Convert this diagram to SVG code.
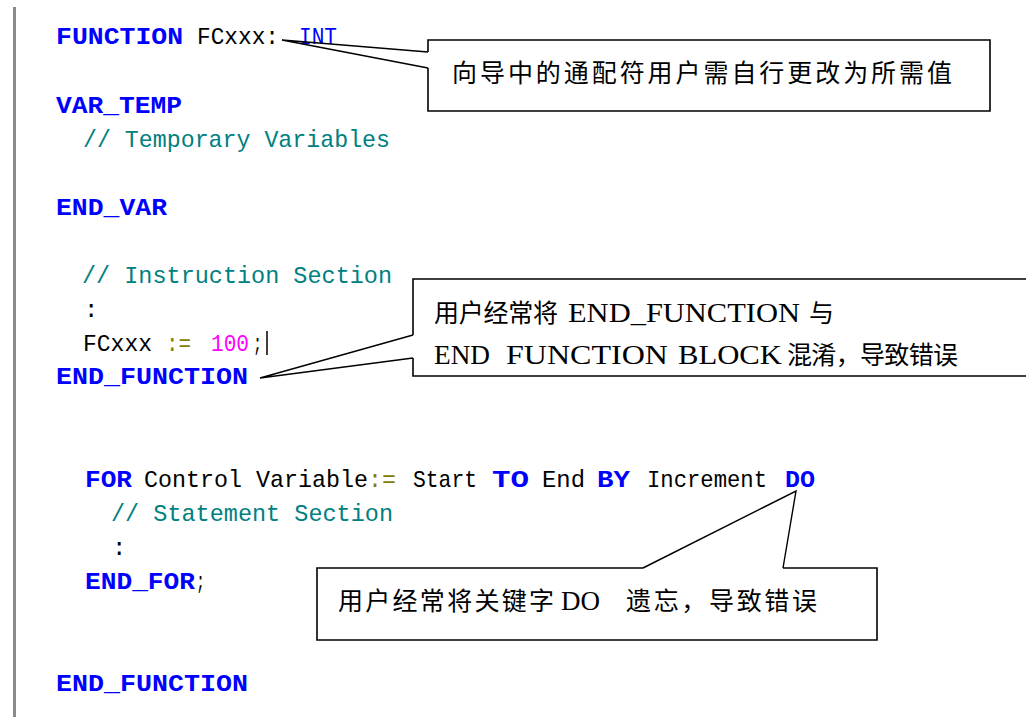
<svg xmlns="http://www.w3.org/2000/svg" width="1026" height="717" viewBox="0 0 1026 717">
<style>
text{white-space:pre}
.kw{font-family:"Liberation Mono","DejaVu Sans Mono",monospace;font-weight:bold;font-size:24px;fill:#0000ff}
.kn{font-family:"Liberation Mono","DejaVu Sans Mono",monospace;font-size:24px;fill:#0000ff}
.tx{font-family:"Liberation Mono","DejaVu Sans Mono",monospace;font-size:24px;fill:#000}
.cm{font-family:"Liberation Mono","DejaVu Sans Mono",monospace;font-size:24px;fill:#008080}
.op{font-family:"Liberation Mono","DejaVu Sans Mono",monospace;font-size:24px;fill:#808000}
.num{font-family:"Liberation Mono","DejaVu Sans Mono",monospace;font-size:24px;fill:#ff00ff}
.cn{font-family:"Noto Sans CJK SC","Noto Sans CJK TC",sans-serif;font-size:25px;fill:#000}
.lt{font-family:"Liberation Serif","Noto Sans CJK SC",serif;font-size:27px;fill:#000}
.box{fill:none;stroke:#000;stroke-width:1.6}
.lead{fill:none;stroke:#000;stroke-width:1.4;stroke-linejoin:miter}
</style>
<rect width="1026" height="717" fill="#fff"/>
<line x1="14.5" y1="7" x2="14.5" y2="717" stroke="#8a8a8a" stroke-width="3"/>

<g id="code">
<text class="kw" x="56" y="44" textLength="127" lengthAdjust="spacingAndGlyphs">FUNCTION</text>
<text class="tx" x="197" y="44" textLength="82" lengthAdjust="spacingAndGlyphs">FCxxx:</text>
<text class="kn" x="299" y="44" textLength="38" lengthAdjust="spacingAndGlyphs">INT</text>
<text class="kw" x="56" y="113" textLength="126" lengthAdjust="spacingAndGlyphs">VAR_TEMP</text>
<text class="cm" x="83" y="147" textLength="307" lengthAdjust="spacingAndGlyphs">// Temporary Variables</text>
<text class="kw" x="56" y="215" textLength="111" lengthAdjust="spacingAndGlyphs">END_VAR</text>
<text class="cm" x="82" y="283" textLength="310" lengthAdjust="spacingAndGlyphs">// Instruction Section</text>
<text class="tx" x="84" y="317">:</text>
<text class="tx" x="83" y="351" textLength="69" lengthAdjust="spacingAndGlyphs">FCxxx</text>
<text class="op" x="166" y="351" textLength="25" lengthAdjust="spacingAndGlyphs">:=</text>
<text class="num" x="211" y="351" textLength="38" lengthAdjust="spacingAndGlyphs">100</text>
<text class="tx" x="253" y="351" textLength="9" lengthAdjust="spacingAndGlyphs">;</text>
<line x1="267" y1="331" x2="267" y2="355" stroke="#000" stroke-width="1.5"/>
<text class="kw" x="56" y="384" textLength="192" lengthAdjust="spacingAndGlyphs">END_FUNCTION</text>

<text class="kw" x="85" y="487" textLength="47" lengthAdjust="spacingAndGlyphs">FOR</text>
<text class="tx" x="144" y="487" textLength="252" lengthAdjust="spacingAndGlyphs">Control Variable<tspan style="fill:#808000">:=</tspan></text>
<text class="tx" x="413" y="487" textLength="64" lengthAdjust="spacingAndGlyphs">Start</text>
<text class="kw" x="492" y="487" textLength="37" lengthAdjust="spacingAndGlyphs">TO</text>
<text class="tx" x="542" y="487" textLength="43" lengthAdjust="spacingAndGlyphs">End</text>
<text class="kw" x="597" y="487" textLength="33" lengthAdjust="spacingAndGlyphs">BY</text>
<text class="tx" x="647" y="487" textLength="120" lengthAdjust="spacingAndGlyphs">Increment</text>
<text class="kw" x="785" y="487" textLength="30" lengthAdjust="spacingAndGlyphs">DO</text>
<text class="cm" x="111" y="521" textLength="282" lengthAdjust="spacingAndGlyphs">// Statement Section</text>
<text class="tx" x="112" y="555">:</text>
<text class="kw" x="85" y="589" textLength="110" lengthAdjust="spacingAndGlyphs">END_FOR</text>
<text class="tx" x="196" y="589" textLength="9" lengthAdjust="spacingAndGlyphs">;</text>
<text class="kw" x="56" y="691" textLength="192" lengthAdjust="spacingAndGlyphs">END_FUNCTION</text>
</g>

<g id="connectors">
<polyline class="lead" points="428,52 282,40 428,68"/>
<polyline class="lead" points="413,335 260,378 413,358"/>
<polyline class="lead" points="643,568 796,491 783,568"/>
</g>

<g id="callout-wildcard">
<path class="box" d="M428,52 V40 H990 V111 H428 V68"/>
<text class="cn" x="452" y="82" textLength="500" lengthAdjust="spacing">向导中的通配符用户需自行更改为所需值</text>
</g>

<g id="callout-end-function">
<path class="box" d="M413,335 V279 H1030 M1030,376 H413 V358"/>
<text class="cn" x="434" y="322" textLength="124" lengthAdjust="spacing">用户经常将</text>
<text class="lt" x="568" y="322" textLength="232" lengthAdjust="spacingAndGlyphs">END_FUNCTION</text>
<text class="cn" x="809" y="322">与</text>
<text class="lt" x="434" y="364" textLength="56" lengthAdjust="spacingAndGlyphs">END</text>
<text class="lt" x="506" y="364" textLength="162" lengthAdjust="spacingAndGlyphs">FUNCTION</text>
<text class="lt" x="678" y="364" textLength="104" lengthAdjust="spacingAndGlyphs">BLOCK</text>
<text class="cn" x="787" y="364" textLength="171" lengthAdjust="spacing">混淆，导致错误</text>
</g>

<g id="callout-do">
<path class="box" d="M643,568 H317 V640 H877 V568 H783"/>
<text class="cn" x="338" y="610" textLength="216" lengthAdjust="spacing">用户经常将关键字</text>
<text class="lt" x="561" y="610" textLength="39" lengthAdjust="spacingAndGlyphs">DO</text>
<text class="cn" x="626" y="610" textLength="191" lengthAdjust="spacing">遗忘，导致错误</text>
</g>
</svg>
